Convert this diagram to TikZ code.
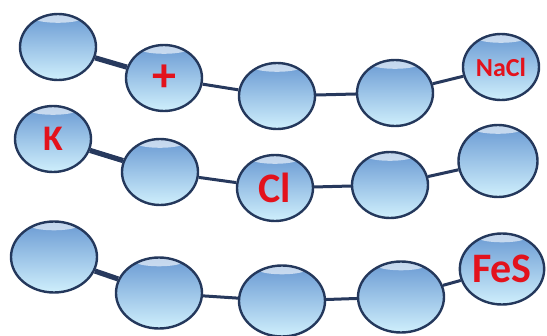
\documentclass[tikz,border=0pt]{standalone}
\usepackage{fontspec}
\setsansfont{Carlito}
\usetikzlibrary{shapes.geometric}
\definecolor{bubbleedge}{HTML}{24385C}
\definecolor{bubbletop}{HTML}{6A9AD3}
\definecolor{bubblemid}{HTML}{A8D6F3}
\definecolor{bubblebot}{HTML}{CFEFFC}
\definecolor{linkcol}{HTML}{27395D}
\definecolor{labelred}{HTML}{E3121C}

\begin{document}
\begin{tikzpicture}[x=0.5pt,y=-0.5pt]
\tikzset{
  bubble/.style={ellipse,draw=bubbleedge,line width=1.2pt,top color=bubbletop,middle color=bubblemid,bottom color=bubblebot,
    minimum width=38pt,minimum height=33pt,inner sep=0pt,
    font=\sffamily\bfseries\color{labelred},
    path picture={\fill[white,opacity=0.6] ([yshift=-2pt]path picture bounding box.north) ellipse (12pt and 2.4pt);}},
  bigbubble/.style={bubble,minimum width=43pt,minimum height=35.5pt},
  link/.style={draw=linkcol,line width=1.5pt},
  tail/.style={draw=linkcol,line width=2.6pt}
}
\useasboundingbox (0,0) rectangle (547,336);
% row one
\node[bubble] (n_a1) at (58,47) {};
\node[bubble] (n_a2) at (164,78) {\fontsize{24}{24}\selectfont +};
\node[bubble] (n_a3) at (277,96) {};
\node[bubble] (n_a4) at (395,93) {};
\node[bubble] (n_a5) at (501,67) {\fontsize{13}{13}\selectfont NaCl};
% row two
\node[bubble] (n_b1) at (53,139) {\fontsize{18}{18}\selectfont K};
\node[bubble] (n_b2) at (160,172) {};
\node[bubble] (n_b3) at (275,188) {\fontsize{21}{21}\selectfont Cl};
\node[bubble] (n_b4) at (390,185) {};
\node[bubble,minimum width=39.5pt,minimum height=36pt] (n_b5) at (498,161) {};
% row three
\node[bigbubble] (n_c1) at (54,257) {};
\node[bigbubble] (n_c2) at (159,293) {};
\node[bigbubble] (n_c3) at (282,301) {};
\node[bigbubble] (n_c4) at (401,297) {};
\node[bigbubble,minimum width=40.5pt] (n_c5) at (502,269) {\fontsize{21}{21}\selectfont FeS};
\draw[tail] (n_a1) -- (n_a2);
\draw[link] (n_a2) -- (n_a3);
\draw[link] (n_a3) -- (n_a4);
\draw[link] (n_a4) -- (n_a5);
\draw[tail] (n_b1) -- (n_b2);
\draw[link] (n_b2) -- (n_b3);
\draw[link] (n_b3) -- (n_b4);
\draw[link] (n_b4) -- (n_b5);
\draw[tail] (n_c1) -- (n_c2);
\draw[link] (n_c2) -- (n_c3);
\draw[link] (n_c3) -- (n_c4);
\draw[link] (n_c4) -- (n_c5);
\end{tikzpicture}
\end{document}
